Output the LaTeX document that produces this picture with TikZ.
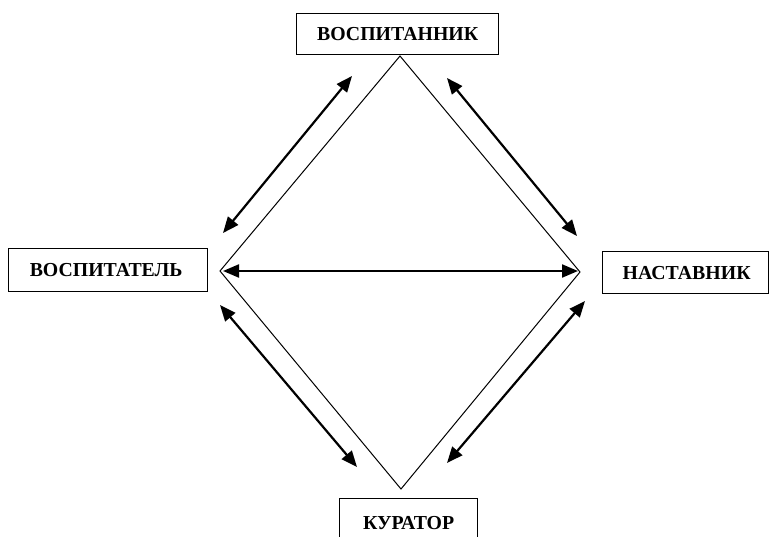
\documentclass[tikz,border=0pt]{standalone}
\usepackage{fontspec}
\setmainfont{Liberation Serif}
\usetikzlibrary{arrows.meta}
\tikzset{
  lbl/.style={draw, line width=1.3pt, font=\bfseries\fontsize{19.8}{22}\selectfont, inner sep=0pt, anchor=north west},
  dia/.style={line width=1pt},
  arr/.style={line width=2.2pt, {Triangle[length=16pt,width=13pt]}-{Triangle[length=16pt,width=13pt]}}
}
\begin{document}
\begin{tikzpicture}[x=1pt,y=-1pt]
\useasboundingbox (0,0) rectangle (769,536);
% boxes
\node[lbl, minimum width=202pt, minimum height=41pt] (vosp) at (296,13) {\raisebox{-3pt}{ВОСПИТАННИК}};
\node[lbl, minimum width=199pt, minimum height=43pt] (vospit) at (8,248) {\hspace*{-4pt}\raisebox{-1pt}{ВОСПИТАТЕЛЬ}};
\node[lbl, minimum width=166pt, minimum height=42pt] (nast) at (602,251) {\hspace*{2pt}\raisebox{-3pt}{НАСТАВНИК}};
\node[lbl, minimum width=138pt, minimum height=48pt] (kur) at (339,498) {\raisebox{-4pt}{КУРАТОР}};
% diamond vertices
\coordinate (T) at (400,56);
\coordinate (L) at (220,271);
\coordinate (R) at (580,272);
\coordinate (B) at (401,489);
\draw[dia] (T) -- (R) -- (B) -- (L) -- cycle;
% arrow endpoints
\coordinate (a1) at (223,233); \coordinate (a2) at (352,76);
\coordinate (b1) at (447,78);  \coordinate (b2) at (577,236);
\coordinate (c1) at (223,271); \coordinate (c2) at (578,271);
\coordinate (d1) at (220,305); \coordinate (d2) at (357,467);
\coordinate (e1) at (585,301); \coordinate (e2) at (447,463);
\draw[arr] (a1) -- (a2);
\draw[arr] (b1) -- (b2);
\draw[arr] (c1) -- (c2);
\draw[arr] (d1) -- (d2);
\draw[arr] (e1) -- (e2);
\end{tikzpicture}
\end{document}
